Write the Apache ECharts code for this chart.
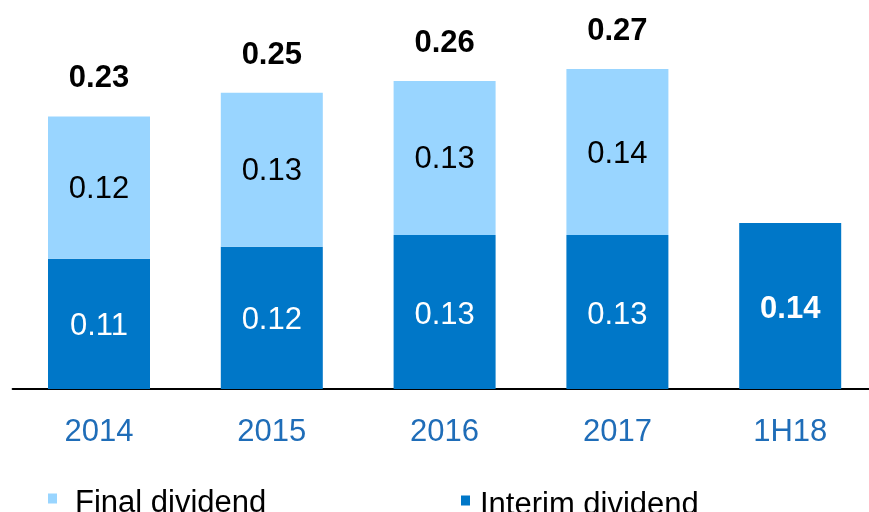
<!doctype html>
<html>
<head>
  <meta charset="UTF-8" />
  <title>Dividends</title>
  <script src="https://cdn.jsdelivr.net/npm/echarts@6/dist/echarts.min.js"></script>
  <style>
    html, body { margin: 0; padding: 0; background: #ffffff; }
    #chart { width: 869px; height: 512px; }
  </style>
</head>
<body>
  <div id="chart"></div>
  <script>
    const categories = ["2014", "2015", "2016", "2017", "1H18"];
    const interimValues = [0.11, 0.12, 0.13, 0.13, 0.14];
    const finalValues = [0.12, 0.13, 0.13, 0.14, null];
    const totalValues = [0.23, 0.25, 0.26, 0.27, null];

    const font = "'Liberation Sans', Arial, sans-serif";
    const darkBlue = "#0077c8";
    const lightBlue = "#99d5ff";
    // square sitting in the upper half of the legend item, so it lines up a bit higher than the text
    const legendIcon = "path://M0,0h9v10h-9z M0,20L9,20L0,20z";

    var chart = echarts.init(document.getElementById("chart"));

    var option = {
      animation: false,
      textStyle: { fontFamily: font },
      grid: { left: 12.6, width: 864, top: 33.5, height: 355.5, outerBoundsMode: "none", containLabel: false },
      legend: [
        {
          data: [{ name: "Final dividend", icon: legendIcon }],
          left: 48,
          top: 488,
          padding: 0,
          itemWidth: 9,
          itemHeight: 20,
          textStyle: { fontFamily: font, fontSize: 31, color: "#000", lineHeight: 30, padding: [0, 0, 0, 13] },
        },
        {
          data: [{ name: "Interim dividend", icon: legendIcon }],
          left: 461,
          top: 490,
          padding: 0,
          itemWidth: 9,
          itemHeight: 20,
          textStyle: { fontFamily: font, fontSize: 31, color: "#000", lineHeight: 30, padding: [0, 0, 0, 5] },
        },
      ],
      xAxis: {
        type: "category",
        data: categories,
        axisTick: { show: false },
        axisLine: { lineStyle: { color: "#000", width: 2 } },
        axisLabel: { color: "#1f6db8", fontSize: 31, fontFamily: font, margin: 28 },
      },
      yAxis: {
        type: "value",
        min: 0,
        max: 0.3,
        show: false,
      },
      series: [
        {
          name: "Interim dividend",
          type: "bar",
          stack: "div",
          barWidth: 102,
          data: interimValues.map((v, i) =>
            i === 4 ? { value: v, label: { fontWeight: "bold" } } : v
          ),
          itemStyle: { color: darkBlue },
          label: {
            show: true,
            position: "inside",
            offset: [0, 3],
            color: "#fff",
            fontSize: 31,
            fontFamily: font,
            formatter: (p) => p.value.toFixed(2),
          },
        },
        {
          name: "Final dividend",
          type: "bar",
          stack: "div",
          barWidth: 102,
          data: finalValues,
          itemStyle: { color: lightBlue },
          label: {
            show: true,
            position: "inside",
            offset: [0, 2],
            color: "#000",
            fontSize: 31,
            fontFamily: font,
            formatter: (p) => (p.value == null ? "" : p.value.toFixed(2)),
          },
        },
        {
          name: "Total",
          type: "bar",
          barWidth: 102,
          barGap: "-100%",
          data: totalValues,
          itemStyle: { color: "rgba(0,0,0,0)" },
          silent: true,
          z: 10,
          label: {
            show: true,
            position: "top",
            distance: 22,
            color: "#000",
            fontSize: 31,
            fontWeight: "bold",
            fontFamily: font,
            formatter: (p) => (p.value == null ? "" : p.value.toFixed(2)),
          },
        },
      ],
    };

    chart.setOption(option);
  </script>
</body>
</html>
